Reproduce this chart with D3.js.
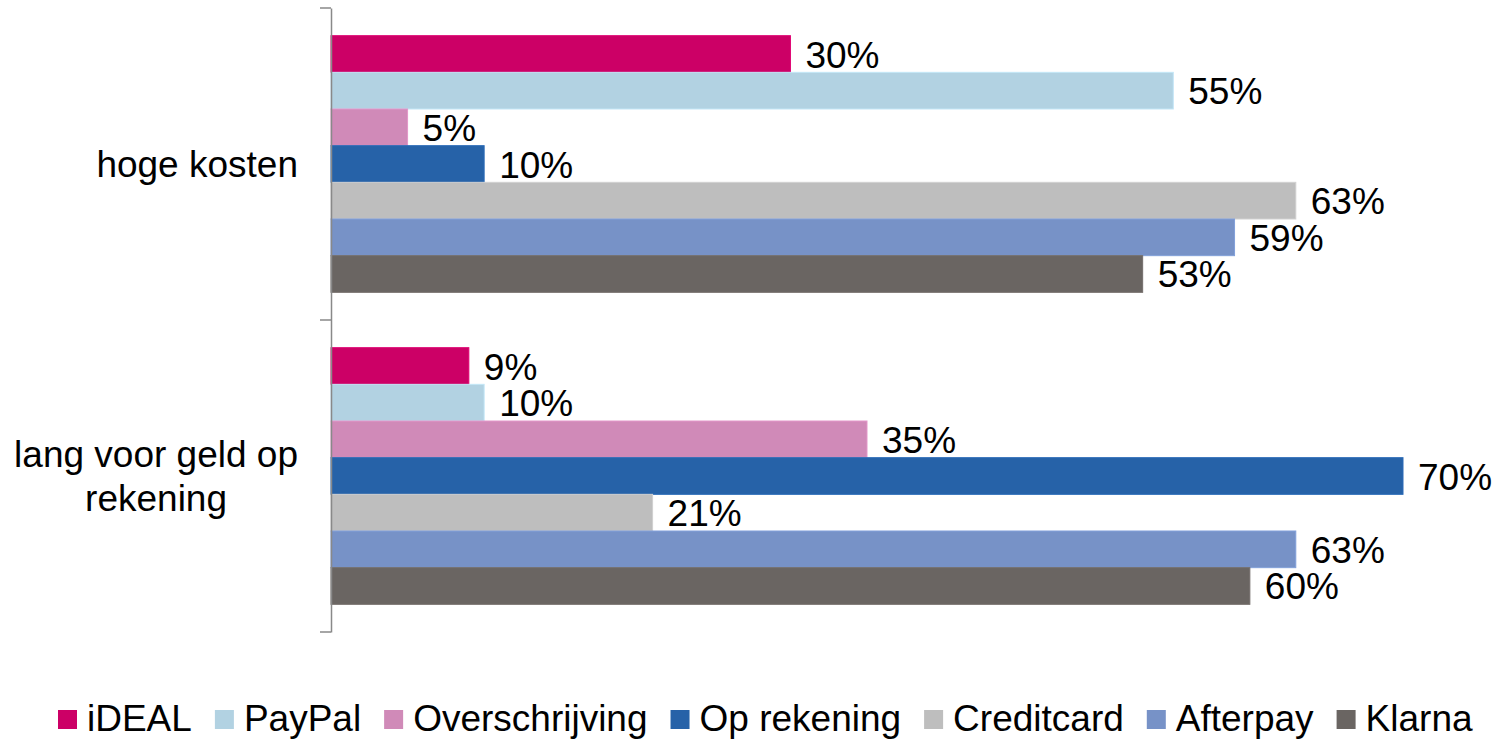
<!DOCTYPE html>
<html>
<head>
<meta charset="utf-8">
<script src="https://cdn.jsdelivr.net/npm/d3@7"></script>
<style>
  html, body { margin: 0; padding: 0; background: #fff; }
  svg { display: block; font-family: "Liberation Sans", Arial, sans-serif; }
</style>
</head>
<body>
<svg id="chart" width="1499" height="741"></svg>
<script>
const categories = ["hoge kosten", "lang voor geld op rekening"];
const categoryLines = [["hoge kosten"], ["lang voor geld op", "rekening"]];
const seriesNames = ["iDEAL", "PayPal", "Overschrijving", "Op rekening", "Creditcard", "Afterpay", "Klarna"];
const seriesColors = ["#CC0066", "#B2D2E2", "#D08AB8", "#2662A8", "#BEBEBE", "#7792C7", "#6A6562"];
const hogeKosten = [30, 55, 5, 10, 63, 59, 53];
const langVoorGeld = [9, 10, 35, 70, 21, 63, 60];
const seriesValues = [hogeKosten, langVoorGeld];

const svg = d3.select("#chart");
const axisX = 331, plotTop = 8, plotBottom = 632;
const fs = 37;

const x = d3.scaleLinear().domain([0, 70]).range([axisX, 1403]);
const y0 = d3.scaleBand().domain(categories).range([plotTop, plotBottom]).padding(0);
const y1 = d3.scaleBand().domain(seriesNames).range([0, y0.bandwidth()]).paddingInner(0).paddingOuter(0.755);
const color = d3.scaleOrdinal().domain(seriesNames).range(seriesColors);

// bars
const groups = svg.append("g").selectAll("g")
  .data(categories)
  .join("g")
  .attr("transform", d => `translate(0,${y0(d)})`);

groups.each(function(cat, ci) {
  const g = d3.select(this);
  const rows = seriesNames.map((s, si) => ({ s, v: seriesValues[ci][si] }));
  g.selectAll("rect")
    .data(rows)
    .join("rect")
    .attr("x", x(0))
    .attr("y", d => y1(d.s))
    .attr("width", d => x(d.v) - x(0))
    .attr("height", y1.bandwidth())
    .attr("fill", d => color(d.s))
    .attr("stroke", d => d3.color(color(d.s)).brighter(0.25))
    .attr("stroke-width", 1);
  g.selectAll("text")
    .data(rows)
    .join("text")
    .attr("x", d => x(d.v) + 15)
    .attr("y", d => y1(d.s) + y1.bandwidth() / 2 + 13.5)
    .attr("font-size", fs)
    .attr("fill", "#000")
    .text(d => d.v + "%");
});

// axis
const axis = d3.axisLeft(y0).tickSize(0).tickFormat("");
const axG = svg.append("g").attr("transform", `translate(${axisX},0)`).call(axis);
axG.select(".domain").attr("stroke", "#898989").attr("stroke-width", 1.5);
// category boundary ticks
const boundaries = [plotTop, ...categories.map(c => y0(c) + y0.bandwidth())];
axG.selectAll(".bound").data(boundaries).join("line")
  .attr("class", "bound")
  .attr("x1", -11).attr("x2", 0)
  .attr("y1", d => d).attr("y2", d => d)
  .attr("stroke", "#898989").attr("stroke-width", 1.5);

// category labels
const labelRight = 298, lineH = 43.5;
categories.forEach((c, ci) => {
  const lines = categoryLines[ci];
  const cy = y0(c) + y0.bandwidth() / 2;
  const t = svg.append("g");
  const texts = lines.map((ln, li) => t.append("text")
    .attr("font-size", fs)
    .attr("fill", "#000")
    .attr("text-anchor", "middle")
    .attr("y", cy + 13 + (li - (lines.length - 1) / 2) * lineH)
    .text(ln));
  const maxW = d3.max(texts, tx => tx.node().getComputedTextLength());
  texts.forEach(tx => tx.attr("x", labelRight - maxW / 2));
});

// legend
const legend = svg.append("g");
let lx = 58;
const sq = 19, legBase = 731;
seriesNames.forEach(s => {
  legend.append("rect")
    .attr("x", lx).attr("y", legBase - 21)
    .attr("width", sq).attr("height", sq)
    .attr("fill", color(s));
  const t = legend.append("text")
    .attr("x", lx + sq + 10).attr("y", legBase)
    .attr("font-size", fs).attr("fill", "#000")
    .text(s);
  lx += sq + 10 + t.node().getComputedTextLength() + 23;
});
</script>
</body>
</html>
